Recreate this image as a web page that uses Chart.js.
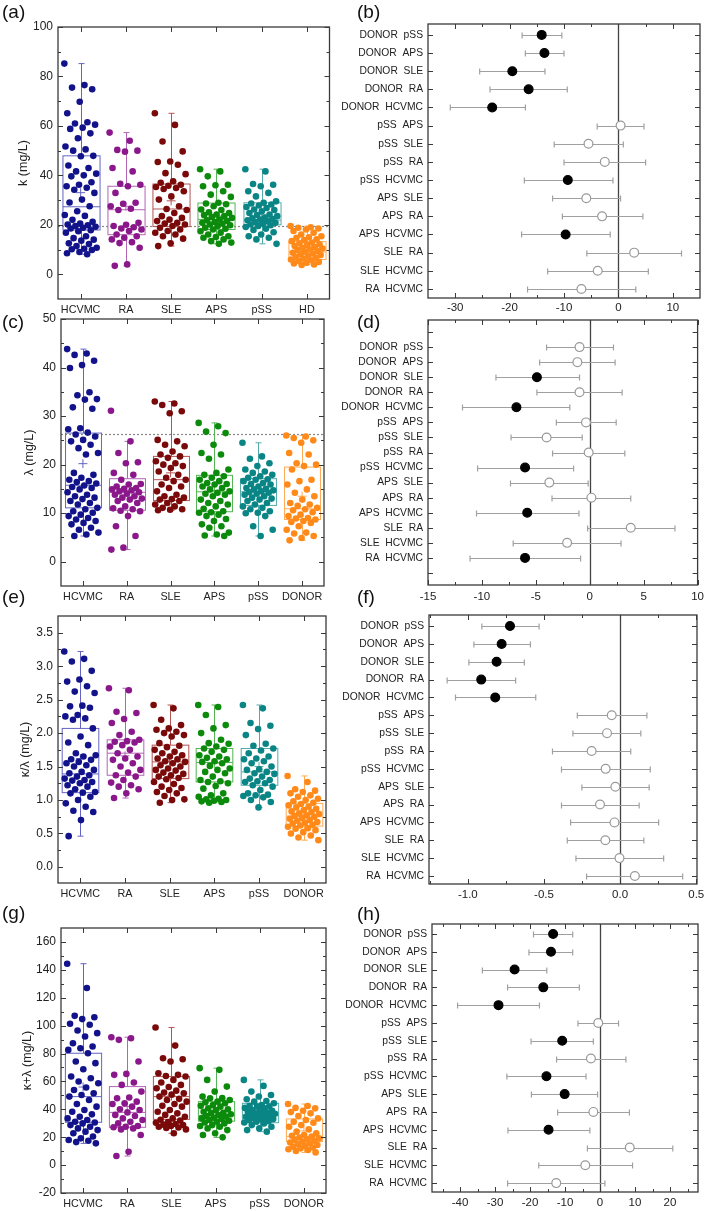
<!DOCTYPE html>
<html><head><meta charset="utf-8">
<script src="https://cdn.jsdelivr.net/npm/chart.js@4.4.0/dist/chart.umd.min.js"></script>
<style>
body{margin:0;background:#fff;width:709px;height:1211px;position:relative;overflow:hidden;font-family:"Liberation Sans",Arial,sans-serif;}
canvas{position:absolute;}
.lbl{position:absolute;font-size:19px;color:#111;line-height:1;}
</style></head><body>
<canvas id="ca" width="335" height="314" style="left:0;top:7px"></canvas>
<canvas id="cc" width="335" height="309" style="left:0;top:299px"></canvas>
<canvas id="ce" width="335" height="309" style="left:0;top:596px"></canvas>
<canvas id="cg" width="335" height="303" style="left:0;top:908px"></canvas>
<canvas id="cb" width="369" height="314" style="left:340px;top:4px"></canvas>
<canvas id="cd" width="369" height="310" style="left:340px;top:300px"></canvas>
<canvas id="cf" width="369" height="310" style="left:340px;top:595px"></canvas>
<canvas id="ch" width="369" height="307" style="left:340px;top:904px"></canvas>
<div class="lbl" style="left:2px;top:2px">(a)</div>
<div class="lbl" style="left:357px;top:2px">(b)</div>
<div class="lbl" style="left:2px;top:312px">(c)</div>
<div class="lbl" style="left:357px;top:312px">(d)</div>
<div class="lbl" style="left:2px;top:587px">(e)</div>
<div class="lbl" style="left:357px;top:587px">(f)</div>
<div class="lbl" style="left:2px;top:903px">(g)</div>
<div class="lbl" style="left:357px;top:904px">(h)</div>
<script>
// ---------- categories ----------
const catsK = ['HCVMC','RA','SLE','APS','pSS','HD'];
const catsD = ['HCVMC','RA','SLE','APS','pSS','DONOR'];
const pairLabels = ['DONOR  pSS','DONOR  APS','DONOR  SLE','DONOR  RA','DONOR  HCVMC','pSS  APS','pSS  SLE','pSS  RA','pSS  HCVMC','APS  SLE','APS  RA','APS  HCVMC','SLE  RA','SLE  HCVMC','RA  HCVMC'];

// ---------- tick labels ----------
const kTicks = [0,20,40,60,80,100];
const lamTicks = [0,10,20,30,40,50];
const ratioTicks = [0,0.5,1.0,1.5,2.0,2.5,3.0,3.5];
const sumTicks = [-20,0,20,40,60,80,100,120,140,160];
const bTicks = [-30,-20,-10,0,10];
const dTicks = [-15,-10,-5,0,5,10];
const fTicks = [-1.0,-0.5,0.0,0.5];
const hTicks = [-40,-30,-20,-10,0,10,20];

// ---------- (a) kappa ----------
const kHCVMC = [85.2,76.5,75.5,74.8,69.8,65.1,61.5,61.0,60.5,59.3,58.8,57.0,55.0,51.7,50.5,50.0,47.9,47.7,44.0,43.0,41.6,40.7,40.0,39.6,37.2,36.2,35.6,35.0,34.2,32.9,30.2,29.0,27.5,25.5,24.0,23.6,22.0,21.2,20.5,20.1,19.8,19.5,19.2,18.8,18.5,17.8,17.4,16.8,15.4,14.6,14.0,13.6,12.5,12.2,11.4,10.7,10.3,10.1,9.8,9.0,8.5,8.1];
const kRA = [57.3,54.0,50.3,50.0,49.6,43.0,41.6,36.6,36.2,35.6,32.9,28.9,28.5,27.5,26.5,26.0,20.8,20.0,19.5,19.0,18.5,18.1,17.5,16.1,15.4,14.8,14.1,13.0,12.6,10.7,4.0,3.4];
const kSLE = [65.1,60.4,53.7,49.7,45.6,45.4,44.3,40.9,40.5,37.6,37.0,36.2,35.8,35.3,34.9,34.5,33.6,31.5,30.2,27.5,26.4,26.0,24.8,23.5,22.8,22.1,21.5,20.8,20.5,20.1,19.5,18.8,18.1,17.5,16.8,16.1,15.4,14.4,12.5,11.4];
const kAPS = [42.5,41.6,39.6,36.2,36.0,35.6,33.6,32.2,31.3,28.9,28.6,28.3,27.5,26.2,26.0,25.1,24.8,24.2,23.9,23.5,23.2,22.8,22.1,21.8,21.5,21.1,20.8,20.5,20.1,19.8,19.5,18.8,18.4,18.1,17.4,16.8,16.1,15.4,15.1,14.8,14.1,13.4,12.8,12.3];
const kPSS = [42.5,41.6,36.5,36.2,35.6,33.6,32.9,31.5,29.5,28.9,28.6,28.2,27.8,27.2,26.8,26.2,26.0,25.5,24.8,24.2,24.0,23.5,22.8,22.6,22.4,22.1,21.8,21.5,21.1,20.8,20.4,20.1,19.8,19.5,19.1,18.4,17.9,17.0,16.1,15.4,14.8,14.1,12.3];
const kHD = [19.5,19.0,18.8,18.5,18.1,17.5,16.8,16.1,15.4,15.0,14.8,14.1,13.8,13.4,12.8,12.5,12.1,11.8,11.4,11.0,10.7,10.4,10.1,9.8,9.4,9.1,8.7,8.4,8.1,7.8,7.4,7.1,6.7,6.4,6.0,5.7,5.4,5.0,4.7,4.4,4.0,3.8];
const kQ1 = [17.9,16.0,19.3,18.1,20.0,6.0];
const kMedian = [27.3,26.1,26.4,22.2,21.9,9.0];
const kQ3 = [47.9,35.6,36.5,28.8,28.9,13.2];
const kMin = [8.1,3.4,11.4,12.3,12.3,3.8];
const kMax = [85.2,57.3,65.1,42.5,42.5,19.5];
const kMean = [33.0,27.5,29.7,23.6,24.2,10.6];
const kRef = 19.5;

// ---------- (c) lambda ----------
const lamHCVMC = [43.8,42.9,42.6,41.4,40.5,39.9,34.9,34.3,33.5,33.4,31.8,31.5,27.5,27.3,26.6,26.2,25.8,25.1,24.8,24.1,23.4,22.4,22.1,18.3,17.9,17.3,16.9,16.6,16.4,16.1,15.7,15.4,15.2,14.9,14.3,13.8,13.5,13.2,12.9,12.5,12.1,11.8,11.1,10.8,10.4,10.1,9.7,9.4,9.0,8.7,8.4,8.0,7.7,7.0,6.6,6.0,5.6,5.3];
const lamRA = [31.1,24.8,22.4,20.5,20.3,18.3,17.9,16.9,16.0,15.9,15.5,15.2,15.0,14.9,14.7,14.5,14.3,14.0,13.8,13.5,13.2,13.0,12.8,12.5,12.1,11.4,11.0,10.8,10.5,10.4,9.4,7.3,5.3,2.9,2.5];
const lamSLE = [33.0,32.6,32.3,31.0,30.6,25.1,24.8,24.1,23.8,22.7,22.1,21.7,21.4,20.7,20.3,20.0,19.7,19.3,18.6,17.9,17.3,16.9,16.6,15.9,15.5,15.2,14.5,13.8,13.5,13.2,12.9,12.8,12.5,12.1,11.8,11.4,11.1,10.8,10.7,10.6];
const lamAPS = [28.6,27.9,26.8,26.5,24.1,22.4,22.1,21.2,19.0,18.3,17.9,17.6,17.3,16.9,16.6,16.2,16.0,15.9,15.5,15.2,14.9,14.5,14.2,14.0,13.8,13.5,12.8,12.5,12.1,11.8,11.4,10.9,10.4,10.2,10.1,9.7,9.4,8.8,8.4,7.7,7.3,7.0,6.0,5.6,5.4,5.3];
const lamPSS = [24.5,21.7,21.2,20.3,19.7,19.0,18.6,18.3,17.9,17.6,17.3,17.0,16.9,16.6,16.2,16.0,15.9,15.5,15.2,15.0,14.9,14.7,14.5,14.3,14.2,14.0,13.8,13.5,13.2,13.0,12.8,12.5,12.1,11.8,11.4,11.1,10.8,10.4,10.1,10.0,9.4,7.3,6.6,5.3];
const lamDONOR = [26.0,25.8,25.5,25.0,24.5,22.4,22.1,20.3,20.0,19.7,19.0,16.9,16.6,15.9,14.9,14.2,13.5,12.8,12.1,11.8,11.5,11.1,10.8,10.6,10.2,9.7,9.4,9.0,8.9,8.7,8.4,8.2,8.0,7.3,6.6,6.0,5.8,5.3,4.9,4.4];
const lamQ1 = [11.1,10.6,12.6,10.3,11.6,8.7];
const lamMedian = [15.75,14.3,16.9,14.4,14.4,10.9];
const lamQ3 = [26.5,17.1,21.7,17.8,17.1,19.5];
const lamMin = [5.3,2.5,10.6,5.3,5.3,4.4];
const lamMax = [43.8,24.8,33.0,28.6,24.5,26.0];
const lamMean = [20.2,14.6,18.3,14.7,14.4,13.5];
const lamRef = 26.3;

// ---------- (e) kappa/lambda ----------
const ratioHCVMC = [3.22,3.11,3.07,2.93,2.80,2.77,2.70,2.62,2.60,2.41,2.40,2.38,2.27,2.25,2.22,2.20,2.07,1.95,1.86,1.82,1.70,1.67,1.65,1.61,1.60,1.57,1.55,1.52,1.50,1.45,1.42,1.40,1.37,1.35,1.32,1.30,1.29,1.27,1.25,1.22,1.20,1.16,1.12,1.11,1.10,1.05,1.00,0.95,0.90,0.84,0.82,0.70,0.46];
const ratioRA = [2.67,2.64,2.32,2.30,2.21,2.15,2.02,1.97,1.90,1.88,1.87,1.86,1.82,1.80,1.75,1.70,1.65,1.62,1.60,1.55,1.50,1.45,1.41,1.37,1.35,1.30,1.26,1.22,1.20,1.16,1.10,1.03];
const ratioSLE = [2.42,2.37,2.20,2.12,2.07,2.05,2.02,2.00,1.97,1.95,1.85,1.81,1.79,1.75,1.72,1.70,1.67,1.65,1.62,1.61,1.58,1.57,1.55,1.52,1.50,1.47,1.45,1.44,1.41,1.39,1.37,1.35,1.33,1.31,1.27,1.24,1.20,1.18,1.15,1.12,1.10,1.06,1.01,1.00,0.96];
const ratioAPS = [2.42,2.39,2.27,2.12,2.07,2.00,1.90,1.85,1.84,1.80,1.77,1.75,1.72,1.67,1.65,1.63,1.61,1.58,1.57,1.55,1.51,1.47,1.45,1.42,1.40,1.35,1.30,1.28,1.27,1.25,1.21,1.17,1.10,1.07,1.05,1.02,1.01,1.00,0.99,0.98,0.97,0.96];
const ratioPSS = [2.42,2.37,2.15,2.11,2.06,1.97,1.84,1.81,1.77,1.74,1.70,1.65,1.62,1.61,1.58,1.55,1.50,1.46,1.45,1.42,1.40,1.39,1.35,1.32,1.30,1.28,1.27,1.25,1.22,1.20,1.15,1.10,1.08,1.07,1.06,1.04,1.00,0.97,0.89];
const ratioDONOR = [1.36,1.27,1.16,1.14,1.12,1.10,1.07,1.05,1.02,1.00,0.98,0.96,0.94,0.92,0.90,0.89,0.87,0.85,0.83,0.82,0.80,0.79,0.77,0.76,0.75,0.73,0.72,0.70,0.69,0.67,0.66,0.65,0.63,0.62,0.60,0.58,0.57,0.55,0.52,0.50,0.47,0.44,0.40];
const ratioQ1 = [1.11,1.37,1.32,1.27,1.22,0.61];
const ratioMedian = [1.39,1.70,1.57,1.56,1.42,0.76];
const ratioQ3 = [2.07,1.90,1.82,1.77,1.77,0.95];
const ratioMin = [0.46,1.03,0.96,0.96,0.89,0.40];
const ratioMax = [3.22,2.67,2.42,2.42,2.42,1.36];
const ratioMean = [1.62,1.66,1.58,1.55,1.50,0.79];

// ---------- (g) kappa+lambda ----------
const sumHCVMC = [144.4,127.0,107.0,106.0,104.7,101.3,100.6,96.5,94.6,92.2,87.4,85.0,83.8,82.6,80.2,74.3,73.1,68.7,63.5,62.3,59.9,58.7,55.6,53.9,51.5,50.3,49.1,46.7,43.8,41.9,39.5,38.3,36.4,34.7,33.5,32.3,31.1,30.5,29.9,28.7,27.5,26.3,25.1,24.0,22.8,20.5,19.2,18.0,17.5,16.5,15.6];
const sumRA = [91.7,91.0,89.8,74.3,65.4,64.7,59.2,57.5,52.7,48.5,47.9,45.5,44.3,43.8,41.9,40.0,39.5,37.8,36.0,35.2,33.5,32.3,31.1,29.9,28.0,27.5,27.1,26.3,25.6,21.6,9.6,6.5];
const sumSLE = [98.7,85.7,76.6,75.9,74.3,65.9,64.7,63.9,63.5,61.1,59.2,57.5,56.0,55.1,53.4,52.0,51.5,50.5,49.1,47.5,46.7,45.5,43.8,42.5,41.9,39.5,38.3,37.1,36.0,34.7,33.5,32.5,31.9,30.8,30.4,29.5,29.0,28.8,28.0,27.5,27.0,26.6,25.6,22.8];
const sumAPS = [69.5,68.3,61.1,56.3,52.7,49.1,48.0,47.9,46.7,45.5,45.0,44.3,43.1,42.5,41.9,40.7,40.0,39.5,38.3,37.5,37.1,36.5,35.9,35.2,34.7,34.0,33.5,33.0,32.3,31.8,31.1,30.5,29.9,28.7,28.0,27.5,26.3,25.1,22.8,21.6,19.9];
const sumPSS = [61.1,56.8,52.7,50.3,49.1,47.2,46.0,45.5,44.3,43.1,42.5,42.0,41.9,41.0,40.7,39.5,39.0,38.8,38.3,37.5,37.1,36.8,36.5,35.9,35.5,35.2,34.7,34.0,33.5,33.0,32.8,32.3,31.5,31.1,30.5,29.9,28.7,27.5,26.3,25.1,24.0];
const sumDONOR = [43.8,42.4,41.0,40.7,39.0,38.0,37.1,35.2,33.5,32.3,31.0,30.4,28.7,27.5,25.6,24.0,22.8,21.6,21.0,20.4,19.8,19.2,18.5,18.0,17.4,16.8,16.2,15.6,15.0,14.4,13.8,13.2,12.6,12.0,11.4,10.8,10.2,9.1];
const sumQ1 = [30.7,27.1,32.8,31.5,30.4,16.8];
const sumMedian = [49.1,37.8,49.1,35.5,35.9,20.4];
const sumQ3 = [80.2,56.3,63.5,45.5,44.3,33.1];
const sumMin = [15.6,6.5,22.8,19.9,24.0,9.1];
const sumMax = [144.4,91.7,98.7,69.5,61.1,43.8];
const sumMean = [56.0,42.0,49.5,39.0,38.5,24.5];

// ---------- forest plots: estimate, lower, upper, significant ----------
const bEst = [-14.1,-13.6,-19.5,-16.5,-23.2,0.4,-5.5,-2.5,-9.3,-5.9,-3.0,-9.7,2.9,-3.8,-6.8];
const bLow = [-17.7,-17.1,-25.5,-23.6,-30.9,-3.9,-11.8,-10.0,-17.3,-12.1,-10.3,-17.8,-5.8,-13.0,-16.7];
const bHigh = [-10.4,-10.0,-13.5,-9.4,-17.1,4.7,0.9,5.0,-1.0,0.4,4.5,-1.5,11.6,5.5,3.2];
const bSig = [1,1,1,1,1,0,0,0,1,0,0,1,0,0,0];

const dEst = [-0.95,-1.15,-4.9,-0.95,-6.8,-0.35,-4.0,-0.1,-6.0,-3.75,0.15,-5.8,3.8,-2.1,-6.0];
const dLow = [-4.0,-4.65,-8.7,-4.9,-11.8,-3.1,-7.3,-3.45,-10.4,-7.35,-3.5,-10.5,-0.2,-7.1,-11.1];
const dHigh = [2.2,2.35,-0.95,3.0,-1.85,2.45,-0.7,3.25,-1.5,-0.15,3.8,-1.0,7.9,2.9,-0.85];
const dSig = [0,0,1,0,1,0,0,0,1,0,0,1,0,0,1];

const fEst = [-0.723,-0.778,-0.811,-0.912,-0.82,-0.055,-0.086,-0.187,-0.095,-0.031,-0.132,-0.037,-0.097,-0.004,0.097];
const fLow = [-0.908,-0.96,-0.993,-1.136,-1.081,-0.281,-0.31,-0.444,-0.385,-0.251,-0.385,-0.325,-0.347,-0.29,-0.22];
const fHigh = [-0.532,-0.589,-0.629,-0.686,-0.554,0.176,0.136,0.07,0.198,0.191,0.125,0.253,0.156,0.286,0.411];
const fSig = [1,1,1,1,1,0,0,0,0,0,0,0,0,0,0];

const hEst = [-13.4,-14.0,-24.4,-16.2,-29.0,-0.5,-10.8,-2.6,-15.3,-10.1,-1.9,-14.7,8.5,-4.2,-12.5];
const hLow = [-19.0,-20.3,-33.6,-26.4,-40.7,-6.3,-19.7,-12.4,-26.6,-19.6,-12.1,-26.3,-3.6,-17.5,-26.4];
const hHigh = [-7.8,-7.8,-15.2,-5.9,-17.3,5.3,-1.9,7.4,-4.0,-0.7,8.4,-2.9,20.8,9.3,1.4];
const hSig = [1,1,1,1,1,0,1,0,1,1,0,1,0,0,0];

// ---------- styles ----------
const FONT = '"Liberation Sans", Arial, Helvetica, sans-serif';
Chart.defaults.font.family = FONT;
Chart.defaults.color = '#222';
const dotColors = ['#12128a','#8a188a','#7a0a0a','#0b8a0b','#0a8585','#ff8a1a'];
const boxColors = ['#6464c4','#b464b4','#b45454','#54b454','#54aaaa','#ffaa55'];

function minorTicks(major, min, max){
  const h=(major[1]-major[0])/2; let v=major[0];
  while(v-h>min+1e-9) v-=h;
  const out=[];
  for(;v<max-1e-9;v+=h){ if(v>min+1e-9 && !major.some(m=>Math.abs(m-v)<1e-9)) out.push(v); }
  return out;
}
// horizontal spread of dots inside a category (layout only, golden-ratio sequence)
function jitter(i){ return (((i*0.6180339887)%1)-0.5)*0.72; }

const seg=(ctx,x1,y1,x2,y2)=>{ctx.beginPath();ctx.moveTo(x1,y1);ctx.lineTo(x2,y2);ctx.stroke();};

const framePlugin = {
  id:'frame',
  afterDatasetsDraw(chart,args,o){
    const {ctx, chartArea:a, scales:{x,y}} = chart;
    ctx.save(); ctx.strokeStyle='#3a3a3a'; ctx.lineWidth=1;
    const X=v=>Math.round(x.getPixelForValue(v))+0.5, Y=v=>Math.round(y.getPixelForValue(v))+0.5;
    o.xMajor.forEach(v=>{const p=X(v); seg(ctx,p,a.bottom,p,a.bottom-5); seg(ctx,p,a.top,p,a.top+5);});
    o.xMinor.forEach(v=>{const p=X(v); seg(ctx,p,a.bottom,p,a.bottom-3); seg(ctx,p,a.top,p,a.top+3);});
    o.yMajor.forEach(v=>{const p=Y(v); seg(ctx,a.left,p,a.left+5,p); seg(ctx,a.right,p,a.right-5,p);});
    o.yMinor.forEach(v=>{const p=Y(v); seg(ctx,a.left,p,a.left+3,p); seg(ctx,a.right,p,a.right-3,p);});
    ctx.lineWidth=1.3; ctx.strokeRect(a.left,a.top,a.right-a.left,a.bottom-a.top);
    ctx.restore();
  }
};

const boxPlugin = {
  id:'boxes',
  beforeDatasetsDraw(chart,args,o){
    if(!o.q1) return;
    const {ctx, chartArea:a, scales:{x,y}} = chart;
    const Y=v=>y.getPixelForValue(v);
    ctx.save();
    if(o.ref!=null){
      ctx.strokeStyle='#888'; ctx.lineWidth=1.2; ctx.setLineDash([2,2]);
      const p=Math.round(Y(o.ref))+0.5; seg(ctx,a.left,p,a.right,p); ctx.setLineDash([]);
    }
    o.q1.forEach((q1,g)=>{
      const cx=Math.round(x.getPixelForValue(g))+0.5, hw=x.getPixelForValue(g+0.41)-x.getPixelForValue(g);
      ctx.strokeStyle=boxColors[g]; ctx.lineWidth=1;
      seg(ctx,cx,Y(o.min[g]),cx,Y(q1)); seg(ctx,cx,Y(o.q3[g]),cx,Y(o.max[g]));
      seg(ctx,cx-3,Y(o.min[g]),cx+3,Y(o.min[g])); seg(ctx,cx-3,Y(o.max[g]),cx+3,Y(o.max[g]));
      ctx.strokeRect(cx-hw,Y(o.q3[g]),2*hw,Y(q1)-Y(o.q3[g]));
      seg(ctx,cx-hw,Y(o.med[g]),cx+hw,Y(o.med[g]));
    });
    ctx.restore();
  }
};

const errPlugin = {
  id:'errbars',
  beforeDatasetsDraw(chart,args,o){
    if(!o.low) return;
    const {ctx, chartArea:a, scales:{x,y}} = chart;
    const X=v=>x.getPixelForValue(v);
    ctx.save();
    ctx.strokeStyle='#444'; ctx.lineWidth=1.3;
    const z=Math.round(X(0))+0.5; seg(ctx,z,a.top,z,a.bottom);
    ctx.strokeStyle='#a0a0a0'; ctx.lineWidth=1.2;
    o.low.forEach((lo,i)=>{
      const py=Math.round(y.getPixelForValue(i+1))+0.5, x1=X(lo), x2=X(o.high[i]);
      seg(ctx,x1,py,x2,py); seg(ctx,x1,py-3,x1,py+3); seg(ctx,x2,py-3,x2,py+3);
    });
    ctx.restore();
  }
};

function boxChart(id, geo, cats, groups, st, yAxis){
  const datasets = groups.map((vals,g)=>({
    data: vals.map((v,i)=>({x:g+jitter(i), y:v})),
    pointRadius:3.3, pointHoverRadius:3.3, borderWidth:0,
    backgroundColor:dotColors[g], borderColor:dotColors[g]
  }));
  datasets.push({data: st.mean.map((m,g)=>({x:g,y:m})), pointStyle:'cross', pointRadius:4.5,
    borderWidth:1, borderColor:boxColors, backgroundColor:boxColors});
  const xMaj = cats.map((c,i)=>i);
  new Chart(document.getElementById(id), {
    type:'scatter', data:{datasets},
    options:{
      responsive:false, animation:false, events:[],
      layout:{padding:{top:geo.pt,right:geo.pr,left:0,bottom:0}},
      plugins:{legend:{display:false},tooltip:{enabled:false},
        frame:{xMajor:xMaj,xMinor:[],yMajor:yAxis.ticks,yMinor:minorTicks(yAxis.ticks,yAxis.min,yAxis.max)},
        boxes:{q1:st.q1,med:st.med,q3:st.q3,min:st.min,max:st.max,ref:st.ref}},
      scales:{
        x:{type:'linear',min:-0.5,max:5.5,grid:{display:false,drawTicks:false},border:{display:false},
           afterBuildTicks:s=>{s.ticks=xMaj.map(v=>({value:v}));},
           afterFit:s=>{s.height=geo.xh;},
           ticks:{autoSkip:false,maxRotation:0,padding:5,color:'#222',font:{size:10.8},callback:v=>cats[v]}},
        y:{type:'linear',min:yAxis.min,max:yAxis.max,grid:{display:false,drawTicks:false},border:{display:false},
           afterBuildTicks:s=>{s.ticks=yAxis.ticks.map(v=>({value:v}));},
           afterFit:s=>{s.width=geo.yw;},
           title:{display:true,text:yAxis.title,font:{size:12.5},color:'#222',padding:{top:geo.tp,bottom:0}},
           ticks:{padding:5,color:'#222',font:{size:12},callback:yAxis.fmt}}
      }
    },
    plugins:[boxPlugin, framePlugin]
  });
}

function forestChart(id, geo, est, low, high, sig, xAxis, yAxis){
  const rows = yAxis.rows;
  new Chart(document.getElementById(id), {
    type:'scatter',
    data:{datasets:[{data: est.map((v,i)=>({x:v,y:i+1})), pointRadius:4.4, pointHoverRadius:4.4,
      pointBorderWidth:1.2,
      pointBackgroundColor: sig.map(s=>s?'#000':'#fff'),
      pointBorderColor: sig.map(s=>s?'#000':'#999')}]},
    options:{
      responsive:false, animation:false, events:[],
      layout:{padding:{top:geo.pt,right:geo.pr,left:0,bottom:0}},
      plugins:{legend:{display:false},tooltip:{enabled:false},
        frame:{xMajor:xAxis.ticks,xMinor:minorTicks(xAxis.ticks,xAxis.min,xAxis.max),yMajor:rows,yMinor:[]},
        errbars:{low,high}},
      scales:{
        x:{type:'linear',min:xAxis.min,max:xAxis.max,grid:{display:false,drawTicks:false},border:{display:false},
           afterBuildTicks:s=>{s.ticks=xAxis.ticks.map(v=>({value:v}));},
           afterFit:s=>{s.height=geo.xh;},
           ticks:{autoSkip:false,maxRotation:0,padding:geo.xp,color:'#222',font:{size:11.5},callback:xAxis.fmt}},
        y:{type:'linear',reverse:true,min:yAxis.min,max:yAxis.max,grid:{display:false,drawTicks:false},border:{display:false},
           afterBuildTicks:s=>{s.ticks=rows.map(v=>({value:v}));},
           afterFit:s=>{s.width=geo.yw;},
           ticks:{autoSkip:false,padding:5,color:'#222',font:{size:10.3},callback:v=>(v>=1&&v<=15)?pairLabels[v-1]:''}}
      }
    },
    plugins:[errPlugin, framePlugin]
  });
}

const intFmt = v=>String(v);
const oneFmt = v=>v.toFixed(1);
const rows15 = [1,2,3,4,5,6,7,8,9,10,11,12,13,14,15];
const rows17 = [0,1,2,3,4,5,6,7,8,9,10,11,12,13,14,15,16];

boxChart('ca',{pt:20,pr:5,xh:22,yw:58,tp:16},catsK,[kHCVMC,kRA,kSLE,kAPS,kPSS,kHD],
  {q1:kQ1,med:kMedian,q3:kQ3,min:kMin,max:kMax,mean:kMean,ref:kRef},
  {min:-10,max:100,ticks:kTicks,fmt:intFmt,title:'k (mg/L)'});
boxChart('cc',{pt:20,pr:11,xh:22,yw:61,tp:22},catsD,[lamHCVMC,lamRA,lamSLE,lamAPS,lamPSS,lamDONOR],
  {q1:lamQ1,med:lamMedian,q3:lamQ3,min:lamMin,max:lamMax,mean:lamMean,ref:lamRef},
  {min:-5,max:50,ticks:lamTicks,fmt:intFmt,title:'λ (mg/L)'});
boxChart('ce',{pt:20,pr:9,xh:22,yw:58,tp:18},catsD,[ratioHCVMC,ratioRA,ratioSLE,ratioAPS,ratioPSS,ratioDONOR],
  {q1:ratioQ1,med:ratioMedian,q3:ratioQ3,min:ratioMin,max:ratioMax,mean:ratioMean,ref:null},
  {min:-0.24,max:3.75,ticks:ratioTicks,fmt:oneFmt,title:'κ/λ (mg/L)'});
boxChart('cg',{pt:20,pr:9,xh:18,yw:61,tp:20},catsD,[sumHCVMC,sumRA,sumSLE,sumAPS,sumPSS,sumDONOR],
  {q1:sumQ1,med:sumMedian,q3:sumQ3,min:sumMin,max:sumMax,mean:sumMean,ref:null},
  {min:-20,max:170,ticks:sumTicks,fmt:intFmt,title:'κ+λ (mg/L)'});

forestChart('cb',{pt:20,pr:9,xh:20,yw:88,xp:3},bEst,bLow,bHigh,bSig,
  {min:-35,max:15,ticks:bTicks,fmt:intFmt},{min:0.4,max:15.5,rows:rows15});
forestChart('cd',{pt:20,pr:7,xh:25,yw:88,xp:5},dEst,dLow,dHigh,dSig,
  {min:-15,max:10,ticks:dTicks,fmt:intFmt},{min:-0.8,max:16.8,rows:rows17});
forestChart('cf',{pt:20,pr:12,xh:21,yw:89,xp:4},fEst,fLow,fHigh,fSig,
  {min:-1.255,max:0.505,ticks:fTicks,fmt:oneFmt},{min:0.38,max:15.45,rows:rows15});
forestChart('ch',{pt:20,pr:11,xh:19,yw:92,xp:4},hEst,hLow,hHigh,hSig,
  {min:-48,max:28,ticks:hTicks,fmt:intFmt},{min:0.44,max:15.5,rows:rows15});
</script>
</body></html>
